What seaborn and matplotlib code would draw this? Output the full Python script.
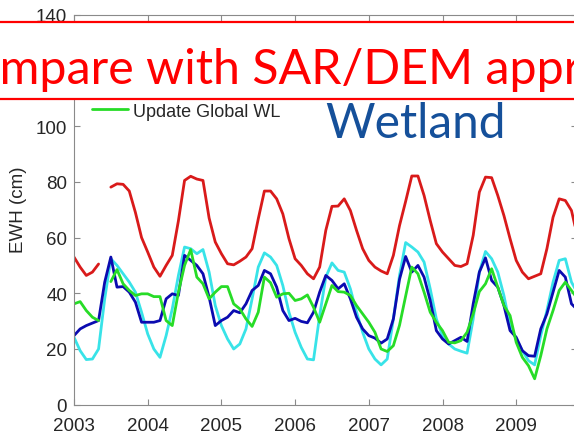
import numpy as np
import pandas as pd
import matplotlib
matplotlib.use("Agg")
import matplotlib.pyplot as plt
import seaborn as sns
from matplotlib.patches import Rectangle

nan = np.nan
start_year = 2003  # monthly series, first value = Jan 2003

red_vals = [53.0, 49.4, 46.4, 47.6, 50.5, nan, 78.1, 79.3, 79.1, 76.7, 69.0, 60.0,
            54.8, 49.4, 46.1, 50.0, 53.6, 66.0, 80.5, 82.0, 81.0, 80.5, 67.0, 58.4,
            54.2, 50.6, 50.2, 51.5, 53.0, 56.0, 66.7, 76.7, 76.7, 73.9, 68.5, 59.6,
            52.4, 50.0, 47.0, 45.2, 49.4, 62.6, 71.2, 71.3, 73.9, 69.7, 62.6, 56.0,
            51.8, 49.4, 48.0, 47.0, 53.6, 64.3, 73.0, 82.1, 82.1, 75.1, 66.1, 57.8,
            54.8, 52.4, 50.0, 49.6, 50.6, 60.8, 76.3, 81.7, 81.5, 75.1, 67.9, 59.6,
            51.8, 47.6, 45.2, 46.1, 47.0, 56.0, 67.3, 73.9, 73.3, 69.7, 60.0]

blue_vals = [24.8, 27.2, 28.4, 29.3, 30.2, 44.0, 53.0, 42.2, 42.4, 40.4, 36.8, 29.6,
             29.6, 29.6, 30.2, 38.0, 39.8, 39.2, 53.6, 51.8, 50.0, 47.0, 38.6, 28.4,
             30.2, 31.4, 33.8, 33.0, 36.2, 41.0, 42.8, 48.2, 47.0, 42.2, 33.8, 30.2,
             31.0, 29.9, 29.4, 33.2, 40.4, 46.4, 44.6, 41.6, 43.4, 38.0, 31.4, 27.2,
             24.8, 23.9, 22.1, 23.6, 30.8, 45.0, 53.2, 47.6, 50.0, 45.8, 37.4, 26.6,
             23.6, 21.8, 23.0, 24.2, 22.7, 36.2, 47.6, 52.7, 44.6, 42.2, 35.6, 26.6,
             24.2, 19.4, 17.6, 17.4, 27.2, 32.6, 40.4, 48.2, 45.8, 36.2, 34.0]

cyan_vals = [24.2, 19.4, 16.2, 16.4, 20.0, 38.0, 52.4, 50.0, 47.0, 44.0, 40.4, 33.2,
             25.4, 20.0, 17.0, 24.8, 34.4, 46.4, 56.6, 56.0, 54.2, 55.7, 47.6, 35.6,
             28.4, 23.6, 20.0, 21.8, 27.2, 38.0, 49.4, 54.5, 53.0, 50.0, 42.8, 33.2,
             26.0, 20.6, 16.4, 16.1, 32.0, 45.8, 50.9, 48.2, 47.6, 41.6, 33.2, 26.0,
             20.0, 16.4, 14.3, 16.4, 30.8, 46.4, 58.2, 56.6, 54.8, 51.2, 41.6, 30.8,
             24.8, 21.8, 20.0, 19.2, 18.5, 30.8, 47.6, 55.0, 52.4, 47.6, 39.2, 28.4,
             23.6, 19.4, 15.8, 14.3, 24.8, 33.8, 44.0, 51.8, 52.4, 44.0, 40.0]

green_vals = [36.2, 37.0, 33.8, 31.4, 30.2, nan, 44.2, 48.5, 43.4, 41.0, 39.2, 39.8,
              39.8, 38.8, 38.8, 30.2, 28.4, 40.4, 50.0, 55.7, 45.8, 43.4, 38.0, 40.4,
              42.4, 42.4, 36.2, 34.4, 30.8, 28.1, 33.2, 45.8, 43.8, 38.6, 39.8, 40.0,
              37.4, 38.0, 39.4, 35.0, 29.6, 36.2, 42.8, 40.6, 40.4, 39.2, 35.6, 32.6,
              29.6, 26.0, 20.0, 19.1, 21.2, 28.5, 39.0, 49.4, 47.0, 40.4, 33.2, 29.6,
              26.6, 22.4, 22.2, 23.0, 26.0, 32.6, 40.6, 43.4, 48.8, 42.2, 35.6, 32.0,
              22.4, 17.0, 14.0, 9.3, 17.6, 27.2, 33.8, 41.0, 44.0, 41.0, 38.0]

year_ticks = [2003, 2004, 2005, 2006, 2007, 2008, 2009]
y_ticks = [0, 20, 40, 60, 80, 100, 120, 140]
y_tick_labels = ["0", "20", "40", "60", "80", "100", "", "140"]  # 120 is hidden under the banner
legend_label = "Update Global WL"
y_label = "EWH (cm)"
banner_text = "Compare with SAR/DEM approach"
region_text = "Wetland"

colors = {"red": "#d91a1a", "cyan": "#38e3e8", "blue": "#0b0bb0", "green": "#27dc27"}


def to_df(vals):
    v = np.array(vals, dtype=float)
    t = start_year + np.arange(len(v)) / 12.0
    seg = np.cumsum(np.isnan(v))
    df = pd.DataFrame({"t": t, "v": v, "seg": seg})
    return df.dropna()


sns.set_theme(style="white")
plt.rcParams["font.family"] = ["Liberation Sans", "DejaVu Sans"]

W, H = 574, 435
fig = plt.figure(figsize=(W / 100, H / 100), dpi=100)
ax_left, ax_right, ax_top, ax_bottom = 74, 577, 15.7, 405.7
ax = fig.add_axes([ax_left / W, (H - ax_bottom) / H,
                   (ax_right - ax_left) / W, (ax_bottom - ax_top) / H])

for name, vals in [("red", red_vals), ("cyan", cyan_vals),
                   ("blue", blue_vals), ("green", green_vals)]:
    sns.lineplot(data=to_df(vals), x="t", y="v", units="seg", estimator=None,
                 color=colors[name], lw=2.0, ax=ax, legend=False)
green_line = ax.lines[-1]

ax.set_xlim(2003, 2003 + (ax_right - ax_left) / 73.7)
ax.set_ylim(0, 140)
ax.set_xticks(year_ticks)
ax.set_xticklabels([str(y) for y in year_ticks])
ax.set_yticks(y_ticks)
ax.set_yticklabels(y_tick_labels)
ax.set_xlabel("")
ax.set_ylabel(y_label, fontsize=13.5, color="#262626")
ax.yaxis.set_label_coords(-0.094, 0.502)

for sp in ax.spines.values():
    sp.set_visible(True)
    sp.set_color("#8a8a8a")
    sp.set_linewidth(0.8)
ax.tick_params(axis="both", which="both", direction="in", length=4, width=0.8,
               color="#8a8a8a", labelsize=13.5, labelcolor="#262626",
               top=True, right=True, bottom=True, left=True)
ax.tick_params(axis="y", pad=5)
ax.tick_params(axis="x", pad=8.5)

leg = ax.legend(handles=[green_line], labels=[legend_label], loc="center left",
                bbox_to_anchor=(0.036, 0.753), borderaxespad=0, borderpad=0,
                frameon=False, handlelength=2.0, handletextpad=0.25,
                prop={"size": 13, "family": ["Liberation Sans", "DejaVu Sans"]})

# region label
fig.text(325 / W, (H - 138) / H, region_text, fontsize=34.5, color="#15509a",
         family=["Lato", "DejaVu Sans"], ha="left", va="baseline", zorder=6)

# red banner box (extends beyond the figure edges)
rect = Rectangle((-0.05, (H - 100) / H), 1.1, (100 - 23.3) / H,
                 transform=fig.transFigure, facecolor="white", edgecolor="#ff0000",
                 lw=1.6, zorder=5)
fig.add_artist(rect)

banner_size = 34.8
renderer = fig.canvas.get_renderer()
probe = fig.text(0, 0, banner_text[:2], fontsize=banner_size, family=["Lato", "DejaVu Sans"])
w_co = probe.get_window_extent(renderer).width
probe.remove()
fig.text(-w_co / W, (H - 84) / H, banner_text, fontsize=banner_size, color="#ff0000",
         family=["Lato", "DejaVu Sans"], ha="left", va="baseline", zorder=6)

fig.savefig("out.png", dpi=100)
